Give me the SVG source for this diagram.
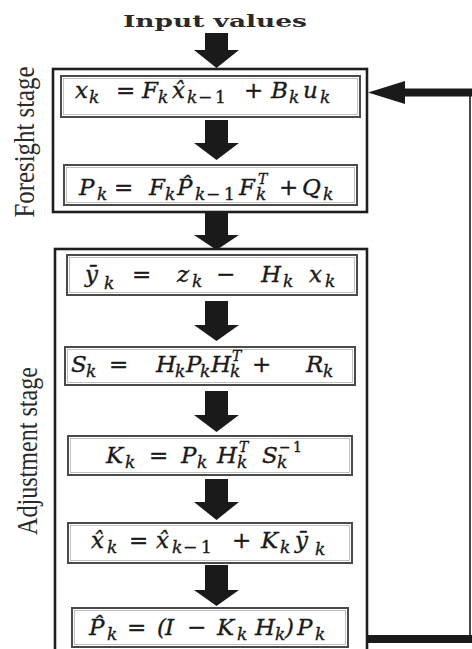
<svg xmlns="http://www.w3.org/2000/svg" width="472" height="649" viewBox="0 0 472 649">
<style>
.bg{fill:#fff}
.stage{fill:none;stroke:#1e1e1e;stroke-width:2.6}
.box{fill:#fff;stroke:#4a4a4a;stroke-width:2}
.box2{fill:none;stroke:#b0b0b0;stroke-width:0.8}
.arr{fill:#1a1a1a}
.lbl{font-family:"Liberation Serif","Times New Roman",serif;font-size:29px;fill:#2a2a2a}
.ttl{font-family:"DejaVu Serif","Liberation Serif",serif;font-weight:bold;font-size:17px;fill:#2a2a2a}
.eq{font-family:"DejaVu Serif","Liberation Serif",serif;fill:#1a1a1a;stroke:#1a1a1a;stroke-width:0.35}
.m{font-style:italic;font-size:23px}
.o{font-style:normal;font-size:23px}
.s{font-style:italic;font-size:17px}
.so{font-style:normal;font-size:17px}
.sp{font-style:italic;font-size:14px}
.spo{font-style:normal;font-size:14px}
.fb{fill:none;stroke:#1a1a1a}
</style>
<rect class="bg" x="0" y="0" width="472" height="649"/>

<g id="input-label">
<text class="ttl" x="215" y="27" text-anchor="middle" textLength="184" lengthAdjust="spacingAndGlyphs">Input values</text>
</g>

<g id="foresight-stage">
<rect class="stage" x="53" y="69" width="314" height="143"/>
<text class="lbl" transform="translate(34,142) rotate(-90)" text-anchor="middle" textLength="151" lengthAdjust="spacingAndGlyphs">Foresight stage</text>
</g>

<g id="adjustment-stage">
<rect class="stage" x="55" y="249" width="312" height="420"/>
<text class="lbl" transform="translate(37,451) rotate(-90)" text-anchor="middle" textLength="168" lengthAdjust="spacingAndGlyphs">Adjustment stage</text>
</g>

<g id="eq1">
<rect class="box" x="61" y="76" width="299" height="41"/>
<rect class="box2" x="63.5" y="78.5" width="294" height="36"/>
<text class="eq"><tspan class="m" x="75" y="98">x</tspan><tspan class="s" x="89" y="103">k</tspan><tspan class="o" x="116" y="98">=</tspan><tspan class="m" x="142" y="98">F</tspan><tspan class="s" x="158" y="103">k</tspan><tspan class="m" x="172" y="98">x̂</tspan><tspan class="s" x="187" y="103">k</tspan><tspan class="so" x="198" y="103">−</tspan><tspan class="so" x="215" y="103">1</tspan><tspan class="o" x="244" y="98">+</tspan><tspan class="m" x="271" y="98">B</tspan><tspan class="s" x="289" y="103">k</tspan><tspan class="m" x="303" y="98">u</tspan><tspan class="s" x="320" y="103">k</tspan></text>
</g>

<g id="eq2">
<rect class="box" x="64" y="165" width="293" height="40"/>
<rect class="box2" x="66.5" y="167.5" width="288" height="35"/>
<text class="eq"><tspan class="m" x="79" y="195">P</tspan><tspan class="s" x="97" y="200">k</tspan><tspan class="o" x="114" y="195">=</tspan><tspan class="m" x="149" y="195">F</tspan><tspan class="s" x="165" y="200">k</tspan><tspan class="m" x="177" y="195">P̂</tspan><tspan class="s" x="195" y="200">k</tspan><tspan class="so" x="206" y="200">−</tspan><tspan class="so" x="224" y="200">1</tspan><tspan class="m" x="239" y="195">F</tspan><tspan class="s" x="256" y="200">k</tspan><tspan class="sp" x="258" y="184">T</tspan><tspan class="o" x="279" y="195">+</tspan><tspan class="m" x="302" y="195">Q</tspan><tspan class="s" x="323" y="200">k</tspan></text>
</g>

<g id="eq3">
<rect class="box" x="67" y="255" width="290" height="40"/>
<rect class="box2" x="69.5" y="257.5" width="285" height="35"/>
<text class="eq"><tspan class="m" x="85" y="282">ȳ</tspan><tspan class="s" x="104" y="289">k</tspan><tspan class="o" x="132" y="282">=</tspan><tspan class="m" x="177" y="282">z</tspan><tspan class="s" x="192" y="287">k</tspan><tspan class="o" x="216" y="282">−</tspan><tspan class="m" x="261" y="282">H</tspan><tspan class="s" x="283" y="287">k</tspan><tspan class="m" x="309" y="282">x</tspan><tspan class="s" x="325" y="287">k</tspan></text>
</g>

<g id="eq4">
<rect class="box" x="65" y="347" width="290" height="38"/>
<rect class="box2" x="67.5" y="349.5" width="285" height="33"/>
<text class="eq"><tspan class="m" x="71" y="372">S</tspan><tspan class="s" x="86" y="377">k</tspan><tspan class="o" x="109" y="372">=</tspan><tspan class="m" x="156" y="372">H</tspan><tspan class="s" x="175" y="377">k</tspan><tspan class="m" x="186" y="372">P</tspan><tspan class="s" x="200" y="377">k</tspan><tspan class="m" x="211" y="372">H</tspan><tspan class="s" x="230" y="377">k</tspan><tspan class="sp" x="232" y="361">T</tspan><tspan class="o" x="252" y="372">+</tspan><tspan class="m" x="306" y="372">R</tspan><tspan class="s" x="323" y="377">k</tspan></text>
</g>

<g id="eq5">
<rect class="box" x="68" y="436" width="284" height="39"/>
<rect class="box2" x="70.5" y="438.5" width="279" height="34"/>
<text class="eq"><tspan class="m" x="106" y="463">K</tspan><tspan class="s" x="125" y="468">k</tspan><tspan class="o" x="149" y="463">=</tspan><tspan class="m" x="181" y="463">P</tspan><tspan class="s" x="197" y="468">k</tspan><tspan class="m" x="217" y="463">H</tspan><tspan class="s" x="237" y="468">k</tspan><tspan class="sp" x="239" y="452">T</tspan><tspan class="m" x="262" y="463">S</tspan><tspan class="s" x="277" y="468">k</tspan><tspan class="spo" x="279" y="452">−</tspan><tspan class="spo" x="293" y="452">1</tspan></text>
</g>

<g id="eq6">
<rect class="box" x="68" y="523" width="284" height="40"/>
<rect class="box2" x="70.5" y="525.5" width="279" height="35"/>
<text class="eq"><tspan class="m" x="91" y="548">x̂</tspan><tspan class="s" x="107" y="553">k</tspan><tspan class="o" x="129" y="548">=</tspan><tspan class="m" x="156" y="548">x̂</tspan><tspan class="s" x="172" y="553">k</tspan><tspan class="so" x="183" y="553">−</tspan><tspan class="so" x="201" y="553">1</tspan><tspan class="o" x="232" y="548">+</tspan><tspan class="m" x="261" y="548">K</tspan><tspan class="s" x="280" y="553">k</tspan><tspan class="m" x="295" y="548">ȳ</tspan><tspan class="s" x="315" y="555">k</tspan></text>
</g>

<g id="eq7">
<rect class="box" x="72" y="608" width="276" height="39"/>
<rect class="box2" x="74.5" y="610.5" width="271" height="34"/>
<text class="eq"><tspan class="m" x="89" y="635">P̂</tspan><tspan class="s" x="107" y="640">k</tspan><tspan class="o" x="127" y="635">=</tspan><tspan class="m" x="157" y="635">(</tspan><tspan class="m" x="165" y="635">I</tspan><tspan class="o" x="187" y="635">−</tspan><tspan class="m" x="217" y="635">K</tspan><tspan class="s" x="237" y="640">k</tspan><tspan class="m" x="255" y="635">H</tspan><tspan class="s" x="275" y="640">k</tspan><tspan class="m" x="285" y="635">)</tspan><tspan class="m" x="297" y="635">P</tspan><tspan class="s" x="315" y="640">k</tspan></text>
</g>

<g id="connectors">
<polygon class="arr" points="205,33 228,33 228,50 239,50 216.5,68 194,50 205,50"/>
<polygon class="arr" points="205,120 228,120 228,143 239,143 216.5,160 194,143 205,143"/>
<polygon class="arr" points="205,212 228,212 228,235 239,235 216.5,250 194,235 205,235"/>
<polygon class="arr" points="205,301 228,301 228,325 239,325 216.5,341 194,325 205,325"/>
<polygon class="arr" points="205,391 228,391 228,415 239,415 216.5,432 194,415 205,415"/>
<polygon class="arr" points="205,479 228,479 228,502 239,502 216.5,520 194,502 205,502"/>
<polygon class="arr" points="205,565 228,565 228,590 239,590 216.5,606 194,590 205,590"/>
<line class="fb" x1="367" y1="639" x2="472" y2="639" stroke-width="8"/>
<line class="fb" x1="470" y1="92" x2="470" y2="643" stroke-width="1.6" stroke="#444"/>
<line class="fb" x1="403" y1="92.5" x2="472" y2="92.5" stroke-width="8"/>
<polygon class="arr" points="368,92.5 405,81 405,104"/>
</g>
</svg>
